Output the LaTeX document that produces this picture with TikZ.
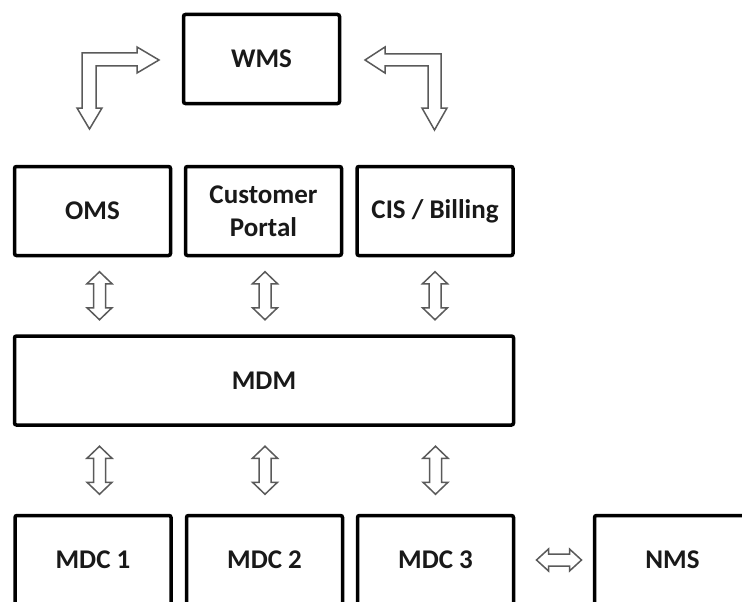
\documentclass[tikz,border=0pt]{standalone}
\usepackage{fontspec}
\setmainfont{Carlito}
\usetikzlibrary{calc}
\definecolor{arrowgray}{HTML}{5A5A5A}
\tikzset{
  sysbox/.style={draw=black, line width=3.5pt, rounded corners=2pt, fill=white,
    minimum width=156pt, minimum height=89pt, inner sep=0pt, align=center,
    text=black!90, font=\fontsize{27}{33}\selectfont\bfseries},
  blockarrow/.style={draw=arrowgray, line width=1.5pt, fill=white, line join=miter},
  vdarrow/.pic={
    \path[blockarrow] (0,-24) -- (12.5,-12) -- (6,-12) -- (6,12) -- (12.5,12) -- (0,24)
      -- (-12.5,12) -- (-6,12) -- (-6,-12) -- (-12.5,-12) -- cycle;
  },
  hdarrow/.pic={
    \path[blockarrow] (-22.5,0) -- (-10.5,-11) -- (-10.5,-6) -- (10.5,-6) -- (10.5,-11)
      -- (22.5,0) -- (10.5,11) -- (10.5,6) -- (-10.5,6) -- (-10.5,11) -- cycle;
  }
}
\begin{document}
\begin{tikzpicture}[x=1pt, y=-1pt]
  \useasboundingbox (0,0) rectangle (742,602);
  \clip (0,0) rectangle (742,602);

  % systems
  \node[sysbox] (wms) at (261.5,59) {WMS};
  \node[sysbox] (oms) at (92.5,211) {OMS};
  \node[sysbox] (portal) at (263.5,211) {Customer\\Portal};
  \node[sysbox] (cis) at (435,211) {CIS / Billing};
  \node[sysbox, minimum width=499pt] (mdm) at (264,380.5) {MDM};
  \node[sysbox] (mdc1) at (93,560) {MDC 1};
  \node[sysbox] (mdc2) at (264.5,560) {MDC 2};
  \node[sysbox] (mdc3) at (435.5,560) {MDC 3};
  \node[sysbox] (nms) at (672.5,560) {NMS};

  % bent arrows between WMS and OMS / CIS
  \path[blockarrow] (89.5,129) -- (102,108) -- (96,108) -- (96,66) -- (137,66) -- (137,73)
    -- (159,60) -- (137,47) -- (137,53) -- (82,53) -- (82,108) -- (77,108) -- cycle;
  \path[blockarrow] (365,60) -- (385,47) -- (385,54) -- (441,54) -- (441,108) -- (447,108)
    -- (434.5,130) -- (422,108) -- (428,108) -- (428,66) -- (385,66) -- (385,73) -- cycle;

  % application layer <-> MDM
  \coordinate (a1) at ($(oms.south)!.5!(oms.south |- mdm.north) + (7,0)$);
  \coordinate (a2) at ($(portal.south)!.5!(portal.south |- mdm.north) + (1.5,0)$);
  \coordinate (a3) at ($(cis.south)!.5!(cis.south |- mdm.north)$);
  \pic at (a1) {vdarrow};
  \pic at (a2) {vdarrow};
  \pic at (a3) {vdarrow};

  % MDM <-> collectors
  \coordinate (b1) at ($(mdc1.north)!.5!(mdc1.north |- mdm.south) + (6.5,0)$);
  \coordinate (b2) at ($(mdc2.north)!.5!(mdc2.north |- mdm.south) + (0.5,0)$);
  \coordinate (b3) at ($(mdc3.north)!.5!(mdc3.north |- mdm.south)$);
  \pic at (b1) {vdarrow};
  \pic at (b2) {vdarrow};
  \pic at (b3) {vdarrow};

  % MDC 3 <-> NMS
  \coordinate (c1) at ($(mdc3.east)!.5!(nms.west) + (5,0)$);
  \pic at (c1) {hdarrow};
\end{tikzpicture}
\end{document}
